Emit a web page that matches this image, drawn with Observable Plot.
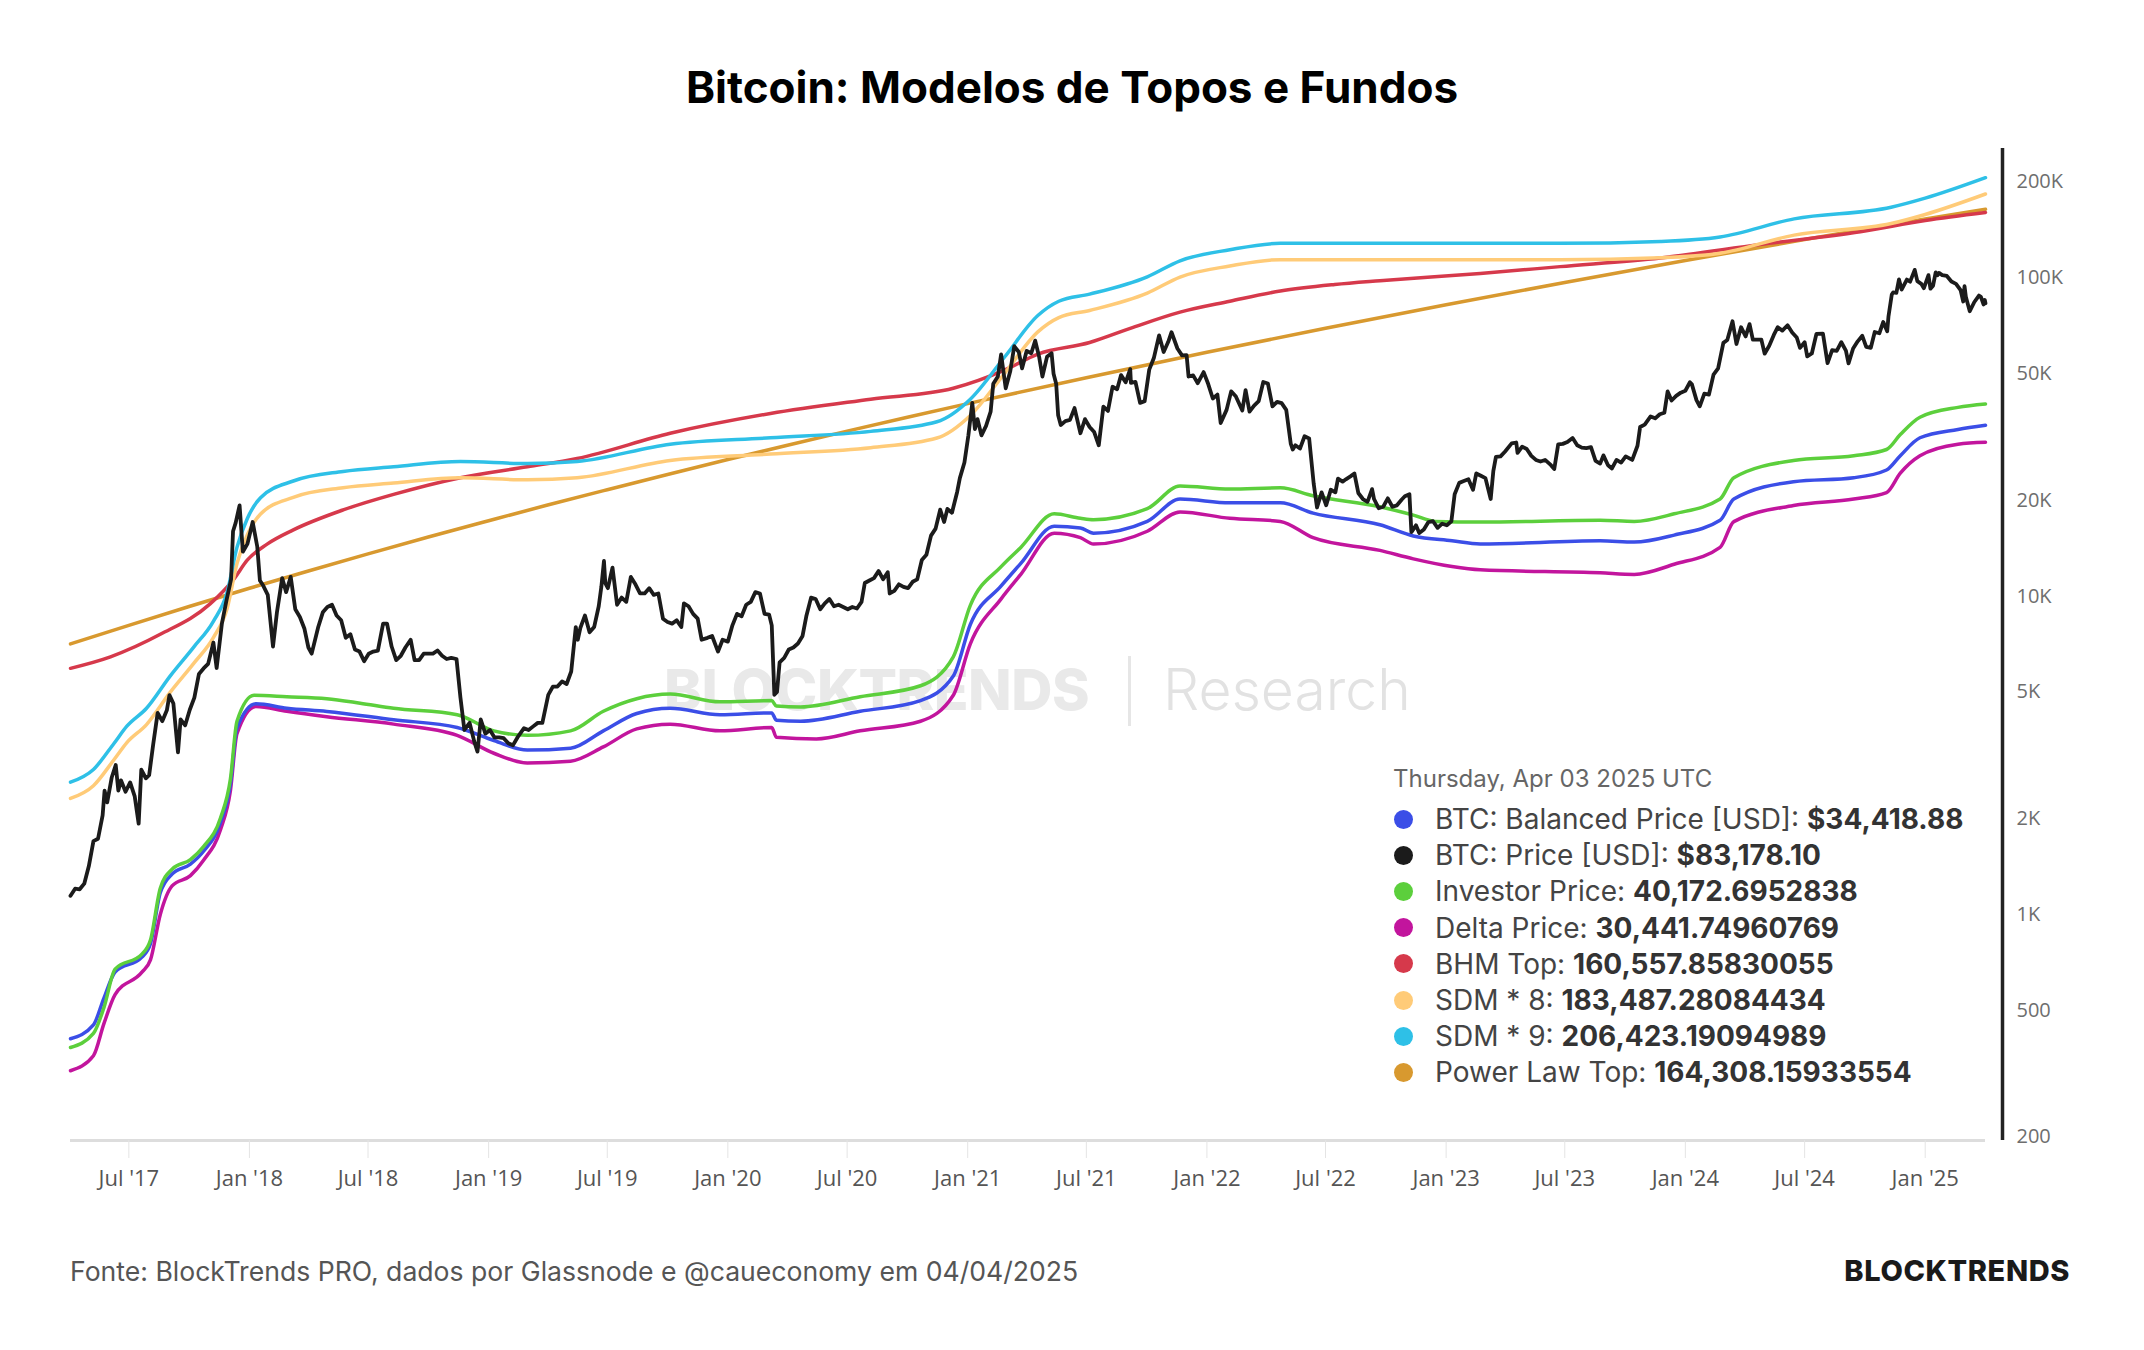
<!DOCTYPE html>
<html>
<head>
<meta charset="utf-8">
<script src="https://cdn.jsdelivr.net/npm/d3@7"></script>
<script src="https://cdn.jsdelivr.net/npm/@observablehq/plot@0.6"></script>
<style>
  html, body { margin: 0; padding: 0; background: #fff; }
  #page { position: relative; width: 2144px; height: 1350px; overflow: hidden; font-family: Inter, "Noto Sans", sans-serif; }
  #title { position: absolute; top: 60px; left: 0; width: 100%; text-align: center; font-size: 44px; font-weight: 700; line-height: 54px; color: #000; }
  #chart { position: absolute; left: 0; top: 120px; z-index: 1; }
  #watermark { position: absolute; left: 0; top: 0; width: 2144px; height: 1350px; z-index: 0; pointer-events: none; }
  #watermark .brand { position: absolute; left: 664px; top: 655px; font-size: 57px; line-height: 70px; font-weight: 800; color: #e9e9e9; letter-spacing: -0.5px; }
  #watermark .bar { position: absolute; left: 1128px; top: 656px; width: 3px; height: 70px; background: #e6e6e6; }
  #watermark .sub { position: absolute; left: 1163px; top: 655px; font-size: 57px; line-height: 70px; font-weight: 300; color: #e2e2e2; }
  #legend { position: absolute; left: 1393px; top: 763px; z-index: 2; }
  #legend .date { font-size: 24px; line-height: 32px; height: 32px; color: #666; margin-bottom: 6px; }
  #legend .row { display: flex; align-items: center; height: 36.2px; font-size: 28px; color: #444; white-space: pre; }
  #legend .dot { width: 19px; height: 19px; border-radius: 50%; margin-left: 1px; margin-right: 22px; flex: none; }
  #legend .val { font-weight: 700; color: #333; }
  #footer { position: absolute; left: 70px; top: 1253px; font-size: 26.6px; line-height: 36px; color: #555; }
  #logo { position: absolute; right: 74px; top: 1253px; font-size: 29px; line-height: 36px; font-weight: 800; color: #1a1a1a; letter-spacing: 0.6px; }
</style>
</head>
<body>
<div id="page">
  <div id="title">Bitcoin: Modelos de Topos e Fundos</div>
  <div id="watermark">
    <div class="brand">BLOCKTRENDS</div>
    <div class="bar"></div>
    <div class="sub">Research</div>
  </div>
  <div id="chart"></div>
  <div id="legend"></div>
  <div id="footer">Fonte: BlockTrends PRO, dados por Glassnode e @caueconomy em 04/04/2025</div>
  <div id="logo">BLOCKTRENDS</div>
</div>
<script>
// Axis ticks
const xTicks = ["2017-07-01","2018-01-01","2018-07-01","2019-01-01","2019-07-01","2020-01-01","2020-07-01","2021-01-01",
  "2021-07-01","2022-01-01","2022-07-01","2023-01-01","2023-07-01","2024-01-01","2024-07-01","2025-01-01"];
const yTicks = [200, 500, 1000, 2000, 5000, 10000, 20000, 50000, 100000, 200000];
const xDomain = ["2017-04-03", "2025-04-03"];
const yDomain = [195, 255000];

// Power Law Top
const powerLawTop = [
  ["2017-04-03",7080],["2017-07-01",8100],["2017-10-01",9280],["2018-01-01",10590],["2018-04-01",12000],
  ["2018-07-01",13580],["2018-10-01",15340],["2019-01-01",17260],["2019-04-01",19340],["2019-07-01",21610],
  ["2019-10-01",24130],["2020-01-01",26870],["2020-04-01",29810],["2020-07-01",33000],["2020-10-01",36510],
  ["2021-01-01",40280],["2021-07-01",48590],["2022-01-01",58380],["2022-07-01",69460],["2023-01-01",82360],
  ["2023-07-01",96750],["2024-01-01",113400],["2024-07-01",132000],["2025-01-01",153100],["2025-04-03",164308.15933554]
];

// BHM Top
const bhmTop = [
  ["2017-04-03",5935],["2017-06-03",6450],["2017-08-18",7590],["2017-11-02",9460],["2017-12-08",11300],
  ["2017-12-29",13000],["2018-01-28",14580],["2018-03-09",16160],["2018-05-24",18670],["2018-08-09",20890],
  ["2018-11-19",23570],["2019-03-01",25500],["2019-05-16",27090],["2019-10-05",32500],["2020-03-06",37500],
  ["2020-08-06",41600],["2020-12-10",45000],["2021-02-26",51300],["2021-04-18",57650],["2021-07-06",62660],
  ["2021-09-06",69400],["2021-11-21",78040],["2022-02-05",84440],["2022-04-23",90930],["2022-07-15",95330],
  ["2022-09-22",98000],["2023-02-22",103250],["2023-06-24",108500],["2023-11-24",115500],["2024-04-24",127300],
  ["2024-09-24",139600],["2025-01-01",151500],["2025-04-03",160557.85830055]
];

// SDM * 9
const sdm9 = [
  ["2017-04-03",2604],["2017-05-08",2856],["2017-06-08",3440],["2017-06-28",3904],["2017-07-28",4446],
  ["2017-09-02",5612],["2017-10-08",6920],["2017-11-07",8340],["2017-11-28",10290],["2017-12-13",14240],
  ["2017-12-29",17570],["2018-01-18",20400],["2018-03-09",23010],["2018-05-24",24660],["2018-08-09",25500],
  ["2018-11-19",26490],["2019-03-01",26100],["2019-05-16",26500],["2019-10-05",30040],["2020-03-06",31460],
  ["2020-08-06",32950],["2020-11-15",35330],["2021-01-05",41600],["2021-02-26",56330],["2021-04-18",76150],
  ["2021-05-20",84440],["2021-07-06",88900],["2021-10-02",100800],["2021-11-21",113200],["2022-02-05",122600],
  ["2022-04-23",128400],["2023-06-24",128400],["2023-11-24",130200],["2024-02-23",134500],["2024-06-15",153300],
  ["2024-11-10",166700],["2025-01-01",178000],["2025-04-03",206423.19094989]
];

// SDM * 8
const sdm8 = [
  ["2017-04-03",2315],["2017-05-08",2539],["2017-06-08",3058],["2017-06-28",3470],["2017-07-28",3952],
  ["2017-09-02",4988],["2017-10-08",6151],["2017-11-07",7413],["2017-11-28",9147],["2017-12-13",12658],
  ["2017-12-29",15618],["2018-01-18",18133],["2018-03-09",20453],["2018-05-24",21920],["2018-08-09",22667],
  ["2018-11-19",23547],["2019-03-01",23200],["2019-05-16",23556],["2019-10-05",26702],["2020-03-06",27964],
  ["2020-08-06",29289],["2020-11-15",31404],["2021-01-05",36978],["2021-02-26",50071],["2021-04-18",67689],
  ["2021-05-20",75058],["2021-07-06",79022],["2021-10-02",89600],["2021-11-21",100622],["2022-02-05",108978],
  ["2022-04-23",114133],["2023-06-24",114133],["2023-11-24",115733],["2024-02-23",119556],["2024-06-15",136267],
  ["2024-11-10",148178],["2025-01-01",158222],["2025-04-03",183487.28084434]
];

// Investor Price
const investorPrice = [
  ["2017-04-03",382],["2017-05-08",423],["2017-05-24",510],["2017-06-10",674],["2017-07-21",751],
  ["2017-08-03",831],["2017-08-18",1210],["2017-09-05",1388],["2017-10-03",1488],["2017-10-23",1634],
  ["2017-11-18",2014],["2017-12-03",2663],["2017-12-13",4048],["2018-01-08",4884],["2018-02-27",4835],
  ["2018-04-29",4765],["2018-06-19",4613],["2018-08-09",4446],["2018-11-14",4242],["2019-01-09",3776],
  ["2019-03-01",3656],["2019-05-06",3776],["2019-06-25",4350],["2019-08-15",4765],["2019-10-05",4926],
  ["2019-12-20",4657],["2020-03-08",4700],["2020-03-15",4520],["2020-04-21",4488],["2020-07-21",4835],
  ["2020-10-21",5232],["2020-12-10",6452],["2021-01-05",9362],["2021-02-21",12386],["2021-03-23",14236],
  ["2021-05-13",18150],["2021-06-22",17570],["2021-07-12",17400],["2021-10-02",18840],["2021-11-21",22180],
  ["2022-02-05",21700],["2022-04-23",21900],["2022-06-12",20680],["2022-09-22",19100],["2022-11-12",17980],
  ["2022-12-15",17180],["2023-02-22",17100],["2023-08-24",17320],["2023-10-15",17180],["2023-12-15",18150],
  ["2024-02-23",20200],["2024-03-15",23570],["2024-06-14",26700],["2024-09-14",27630],["2024-11-03",28900],
  ["2024-11-24",32200],["2024-12-24",36500],["2025-02-20",39200],["2025-04-03",40172.6952838]
];

// BTC: Balanced Price [USD]
const balancedPrice = [
  ["2017-04-03",407],["2017-05-08",450],["2017-05-24",546],["2017-06-10",660],["2017-07-21",735],
  ["2017-08-03",810],["2017-08-18",1170],["2017-09-05",1340],["2017-10-03",1440],["2017-10-23",1580],
  ["2017-11-18",1950],["2017-12-03",2560],["2017-12-13",3850],["2018-01-11",4593],["2018-02-27",4450],
  ["2018-04-29",4346],["2018-08-09",4089],["2018-11-14",3870],["2019-01-09",3522],["2019-03-01",3285],
  ["2019-05-06",3330],["2019-06-25",3776],["2019-08-15",4282],["2019-10-05",4446],["2019-12-20",4242],
  ["2020-03-08",4300],["2020-03-15",4080],["2020-04-21",4048],["2020-07-21",4350],["2020-10-21",4700],
  ["2020-12-10",5612],["2021-01-05",8150],["2021-02-21",10770],["2021-03-23",12680],["2021-05-13",16600],
  ["2021-06-22",16380],["2021-07-12",15770],["2021-10-02",17180],["2021-11-21",20200],["2022-02-05",19650],
  ["2022-04-23",19650],["2022-06-12",18240],["2022-09-22",16770],["2022-11-12",15460],["2023-01-10",14930],
  ["2023-02-22",14584],["2023-08-24",14930],["2023-10-15",14790],["2023-12-15",15560],["2024-02-23",17320],
  ["2024-03-15",20200],["2024-06-14",22900],["2024-09-14",23570],["2024-11-03",24920],["2024-11-24",27630],
  ["2024-12-24",31460],["2025-02-20",33420],["2025-04-03",34418.88]
];

// Delta Price
const deltaPrice = [
  ["2017-04-03",323],["2017-05-08",360],["2017-05-24",454],["2017-06-10",560],["2017-07-21",659],
  ["2017-08-03",720],["2017-08-18",1000],["2017-09-05",1230],["2017-10-03",1325],["2017-10-23",1480],
  ["2017-11-18",1850],["2017-12-03",2450],["2017-12-13",3700],["2018-01-11",4507],["2018-02-27",4350],
  ["2018-04-29",4183],["2018-08-09",3964],["2018-11-14",3656],["2019-01-09",3211],["2019-03-01",2992],
  ["2019-05-06",3030],["2019-06-25",3361],["2019-08-15",3830],["2019-10-05",3964],["2019-12-20",3776],
  ["2020-03-08",3870],["2020-03-15",3605],["2020-05-15",3560],["2020-07-21",3776],["2020-10-21",4048],
  ["2020-12-10",4884],["2021-01-05",7085],["2021-02-21",9812],["2021-03-23",11710],["2021-05-13",15770],
  ["2021-06-22",15270],["2021-07-12",14584],["2021-10-02",16000],["2021-11-21",18400],["2022-02-05",17570],
  ["2022-04-23",17180],["2022-06-12",15270],["2022-09-22",13930],["2022-11-12",13100],["2023-01-10",12390],
  ["2023-02-22",12100],["2023-08-24",11840],["2023-10-15",11710],["2023-12-15",12600],["2024-02-23",14236],
  ["2024-03-15",17150],["2024-06-14",19280],["2024-09-14",20200],["2024-11-03",21160],["2024-11-24",24350],
  ["2024-12-24",27630],["2025-02-20",30040],["2025-04-03",30441.74960769]
];

// BTC: Price [USD]
const btcPrice = [
  ["2017-04-03",1145],["2017-04-10",1205],["2017-04-17",1200],["2017-04-24",1250],["2017-05-01",1420],["2017-05-08",1700],
  ["2017-05-15",1730],["2017-05-22",2050],["2017-05-25",2450],["2017-05-29",2250],["2017-06-05",2700],["2017-06-11",2950],
  ["2017-06-15",2450],["2017-06-19",2640],["2017-06-26",2430],["2017-07-03",2600],["2017-07-10",2350],["2017-07-16",1930],
  ["2017-07-20",2850],["2017-07-27",2680],["2017-08-01",2740],["2017-08-07",3400],["2017-08-14",4300],["2017-08-21",4050],
  ["2017-08-28",4380],["2017-09-01",4890],["2017-09-07",4600],["2017-09-14",3230],["2017-09-18",4100],["2017-09-25",3930],
  ["2017-10-02",4400],["2017-10-09",4800],["2017-10-16",5700],["2017-10-23",5930],["2017-10-30",6130],["2017-11-07",7150],
  ["2017-11-12",5950],["2017-11-20",8200],["2017-11-27",9700],["2017-12-04",11300],["2017-12-07",16000],["2017-12-11",17000],
  ["2017-12-17",19300],["2017-12-22",13800],["2017-12-29",14600],
  ["2018-01-06",17100],["2018-01-13",14300],["2018-01-17",11200],["2018-01-22",10800],["2018-01-29",10100],["2018-02-06",6950],
  ["2018-02-12",8900],["2018-02-20",11400],["2018-02-26",10300],["2018-03-05",11500],["2018-03-12",9100],["2018-03-19",8600],
  ["2018-03-26",7900],["2018-04-01",6900],["2018-04-06",6600],["2018-04-16",8000],["2018-04-23",8900],["2018-04-30",9250],
  ["2018-05-07",9400],["2018-05-14",8700],["2018-05-21",8400],["2018-05-28",7400],["2018-06-04",7600],["2018-06-11",6800],
  ["2018-06-18",6700],["2018-06-25",6250],["2018-07-02",6600],["2018-07-09",6700],["2018-07-16",6750],["2018-07-24",8200],
  ["2018-07-30",8200],["2018-08-06",6950],["2018-08-13",6300],["2018-08-20",6500],["2018-08-27",6900],["2018-09-04",7300],
  ["2018-09-10",6300],["2018-09-17",6300],["2018-09-24",6600],["2018-10-01",6600],["2018-10-08",6600],["2018-10-15",6750],
  ["2018-10-22",6500],["2018-10-29",6350],["2018-11-05",6400],["2018-11-13",6350],["2018-11-19",4800],["2018-11-25",3800],
  ["2018-12-03",4000],["2018-12-10",3500],["2018-12-15",3250],["2018-12-20",4100],["2018-12-27",3700],
  ["2019-01-03",3800],["2019-01-10",3600],["2019-01-17",3600],["2019-01-24",3580],["2019-01-31",3450],["2019-02-07",3400],
  ["2019-02-14",3600],["2019-02-24",3850],["2019-03-03",3800],["2019-03-10",3900],["2019-03-17",4000],["2019-03-24",4000],
  ["2019-04-02",4900],["2019-04-09",5200],["2019-04-16",5200],["2019-04-23",5400],["2019-04-30",5300],["2019-05-07",5800],
  ["2019-05-14",8000],["2019-05-17",7300],["2019-05-21",7950],["2019-05-28",8700],["2019-06-04",7700],["2019-06-11",8000],
  ["2019-06-18",9300],["2019-06-22",10700],["2019-06-26",12900],["2019-06-28",11000],["2019-07-02",10600],["2019-07-09",12300],
  ["2019-07-16",9400],["2019-07-23",9900],["2019-07-30",9600],["2019-08-06",11500],["2019-08-13",10900],["2019-08-20",10200],
  ["2019-08-27",10200],["2019-09-03",10600],["2019-09-10",10100],["2019-09-17",10200],["2019-09-24",8500],["2019-10-01",8300],
  ["2019-10-08",8200],["2019-10-15",8400],["2019-10-22",8000],["2019-10-26",9500],["2019-11-02",9300],["2019-11-09",8800],
  ["2019-11-16",8500],["2019-11-22",7300],["2019-12-01",7400],["2019-12-08",7500],["2019-12-17",6700],["2019-12-24",7300],
  ["2020-01-01",7200],["2020-01-08",8100],["2020-01-15",8800],["2020-01-22",8650],["2020-01-29",9400],["2020-02-05",9600],
  ["2020-02-12",10300],["2020-02-19",10200],["2020-02-26",8800],["2020-03-04",8750],["2020-03-08",8100],["2020-03-12",4900],
  ["2020-03-16",5000],["2020-03-20",6200],["2020-03-27",6400],["2020-04-03",6800],["2020-04-10",6900],["2020-04-17",7100],
  ["2020-04-24",7500],["2020-04-30",8700],["2020-05-07",9900],["2020-05-14",9800],["2020-05-21",9100],["2020-05-28",9500],
  ["2020-06-04",9800],["2020-06-11",9300],["2020-06-18",9400],["2020-06-25",9250],["2020-07-02",9100],["2020-07-09",9250],
  ["2020-07-16",9150],["2020-07-23",9600],["2020-07-28",11000],["2020-08-04",11200],["2020-08-11",11400],["2020-08-18",12000],
  ["2020-08-25",11300],["2020-09-01",11900],["2020-09-04",10200],["2020-09-11",10400],["2020-09-18",10900],["2020-09-25",10700],
  ["2020-10-02",10600],["2020-10-09",11100],["2020-10-16",11300],["2020-10-23",13000],["2020-10-30",13500],["2020-11-06",15500],
  ["2020-11-13",16300],["2020-11-20",18700],["2020-11-26",17100],["2020-12-01",18800],["2020-12-08",18300],["2020-12-16",21300],
  ["2020-12-20",23500],["2020-12-27",26300],
  ["2021-01-02",32000],["2021-01-08",40500],["2021-01-12",33500],["2021-01-16",36000],["2021-01-22",32000],["2021-01-29",34300],
  ["2021-02-05",38000],["2021-02-09",46500],["2021-02-16",49000],["2021-02-21",57500],["2021-02-28",45000],["2021-03-07",51000],
  ["2021-03-13",61000],["2021-03-20",58500],["2021-03-25",52000],["2021-04-01",59000],["2021-04-08",58000],["2021-04-14",63500],
  ["2021-04-20",56500],["2021-04-25",49000],["2021-05-02",56500],["2021-05-09",58000],["2021-05-12",50000],["2021-05-16",46500],
  ["2021-05-19",37000],["2021-05-23",34500],["2021-05-30",35500],["2021-06-06",35800],["2021-06-13",39000],["2021-06-22",32500],
  ["2021-06-29",36000],["2021-07-06",34000],["2021-07-13",32800],["2021-07-20",29800],["2021-07-27",39400],["2021-08-03",38200],
  ["2021-08-10",45500],["2021-08-17",44700],["2021-08-23",49500],["2021-08-30",47000],["2021-09-06",51700],["2021-09-07",46800],
  ["2021-09-14",47100],["2021-09-21",40500],["2021-09-28",41000],["2021-10-05",51500],["2021-10-12",56000],["2021-10-20",66000],
  ["2021-10-27",58500],["2021-11-03",63000],["2021-11-08",67500],["2021-11-17",60000],["2021-11-24",57100],["2021-12-01",57200],
  ["2021-12-04",49000],["2021-12-11",49400],["2021-12-18",46700],["2021-12-27",50600],
  ["2022-01-03",46400],["2022-01-10",41800],["2022-01-17",43000],["2022-01-22",35000],["2022-01-31",38500],["2022-02-07",44000],
  ["2022-02-14",42500],["2022-02-24",38300],["2022-03-01",44400],["2022-03-07",38000],["2022-03-14",39700],["2022-03-21",41000],
  ["2022-03-28",47100],["2022-04-04",46600],["2022-04-11",39500],["2022-04-18",40800],["2022-04-25",40400],["2022-05-02",38500],
  ["2022-05-09",30100],["2022-05-12",28900],["2022-05-16",29800],["2022-05-23",29100],["2022-05-30",31800],["2022-06-06",31300],
  ["2022-06-13",22500],["2022-06-18",19000],["2022-06-25",21200],["2022-07-02",19300],["2022-07-09",21600],["2022-07-16",21200],
  ["2022-07-20",23400],["2022-07-27",22900],["2022-08-01",23300],["2022-08-08",23800],["2022-08-14",24300],["2022-08-20",21100],
  ["2022-08-27",20200],["2022-09-03",19800],["2022-09-10",21700],["2022-09-13",20200],["2022-09-20",18900],["2022-09-27",19100],
  ["2022-10-04",20300],["2022-10-11",19100],["2022-10-18",19300],["2022-10-25",20100],["2022-10-30",20600],["2022-11-06",20900],
  ["2022-11-09",15900],["2022-11-16",16700],["2022-11-21",15800],["2022-11-28",16200],["2022-12-05",17100],["2022-12-12",17200],
  ["2022-12-19",16400],["2022-12-26",16900],
  ["2023-01-02",16700],["2023-01-09",17200],["2023-01-14",20900],["2023-01-21",22700],["2023-01-28",23000],["2023-02-04",23300],
  ["2023-02-11",21600],["2023-02-16",24300],["2023-02-23",23900],["2023-03-02",23500],["2023-03-10",20200],["2023-03-14",24700],
  ["2023-03-18",27400],["2023-03-25",27500],["2023-04-01",28500],["2023-04-11",30200],["2023-04-18",30400],["2023-04-20",28200],
  ["2023-04-27",29500],["2023-05-04",29000],["2023-05-11",27600],["2023-05-18",26800],["2023-05-25",26500],["2023-06-01",26800],
  ["2023-06-10",25800],["2023-06-15",25100],["2023-06-21",30000],["2023-06-28",30100],["2023-07-05",30500],["2023-07-13",31400],
  ["2023-07-20",29800],["2023-07-27",29300],["2023-08-03",29200],["2023-08-10",29400],["2023-08-17",26600],["2023-08-24",26100],
  ["2023-08-29",27700],["2023-09-05",25800],["2023-09-11",25200],["2023-09-18",26800],["2023-09-25",26300],["2023-10-02",27500],
  ["2023-10-12",26800],["2023-10-20",29700],["2023-10-24",34000],["2023-10-31",34600],["2023-11-09",36700],["2023-11-16",36200],
  ["2023-11-23",37300],["2023-11-30",37700],["2023-12-05",44000],["2023-12-11",41200],["2023-12-18",42600],["2023-12-25",43600],
  ["2024-01-01",44200],["2024-01-08",47000],["2024-01-11",46300],["2024-01-18",41300],["2024-01-23",39500],["2024-01-30",43300],
  ["2024-02-06",43000],["2024-02-13",49700],["2024-02-20",52000],["2024-02-28",62500],["2024-03-05",63800],["2024-03-13",73100],
  ["2024-03-19",62000],["2024-03-26",70000],["2024-04-02",65500],["2024-04-08",71600],["2024-04-13",64000],["2024-04-19",64000],
  ["2024-04-26",64000],["2024-05-01",57800],["2024-05-08",61200],["2024-05-15",66200],["2024-05-21",70000],["2024-05-28",68300],
  ["2024-06-05",71000],["2024-06-12",67400],["2024-06-19",65000],["2024-06-24",60300],["2024-07-01",62800],["2024-07-05",56700],
  ["2024-07-12",57900],["2024-07-19",66700],["2024-07-29",66800],["2024-08-05",54000],["2024-08-12",59300],["2024-08-19",59000],
  ["2024-08-26",62800],["2024-09-02",59100],["2024-09-06",53900],["2024-09-13",60000],["2024-09-20",63200],["2024-09-27",65800],
  ["2024-10-03",60700],["2024-10-10",60300],["2024-10-16",67600],["2024-10-23",67000],["2024-10-29",72700],["2024-11-04",68000],
  ["2024-11-06",75800],["2024-11-11",88700],["2024-11-13",90000],["2024-11-18",89800],["2024-11-22",98900],["2024-11-26",91900],
  ["2024-12-04",98800],["2024-12-09",97300],["2024-12-16",106000],["2024-12-20",97700],["2024-12-26",95800],["2024-12-30",92800],
  ["2025-01-06",102000],["2025-01-09",92500],["2025-01-13",94500],["2025-01-17",104000],["2025-01-20",102000],["2025-01-22",103700],
  ["2025-01-27",102000],["2025-02-03",101400],["2025-02-10",97400],["2025-02-17",95800],["2025-02-24",91500],["2025-02-28",84300],
  ["2025-03-02",94200],["2025-03-04",87200],["2025-03-10",78600],["2025-03-17",84000],["2025-03-24",88000],["2025-03-27",87200],
  ["2025-03-31",82500],["2025-04-02",85200],["2025-04-03",83178.10]
];

// Number formats used in the legend
const usd = v => "$" + d3.format(",.2f")(v);
const full = v => {
  const [i, f] = String(v).split(".");
  return d3.format(",")(+i) + (f ? "." + f : "");
};

// Legend order and line drawing order
const legendSeries = [
  {name: "BTC: Balanced Price [USD]", data: balancedPrice, color: "#3b4ee7", fmt: usd},
  {name: "BTC: Price [USD]", data: btcPrice, color: "#1b1b1b", fmt: usd},
  {name: "Investor Price", data: investorPrice, color: "#5ccf3c", fmt: full},
  {name: "Delta Price", data: deltaPrice, color: "#c2159d", fmt: full},
  {name: "BHM Top", data: bhmTop, color: "#d6394b", fmt: full},
  {name: "SDM * 8", data: sdm8, color: "#ffcb78", fmt: full},
  {name: "SDM * 9", data: sdm9, color: "#2ec0e7", fmt: full},
  {name: "Power Law Top", data: powerLawTop, color: "#d8992f", fmt: full}
];
const drawOrder = ["Power Law Top", "BHM Top", "SDM * 8", "SDM * 9", "Delta Price", "BTC: Balanced Price [USD]", "Investor Price", "BTC: Price [USD]"];

const parse = s => new Date(s + "T00:00:00Z");
const X = d => parse(d[0]);
const Y = d => d[1];
const yLabel = v => v >= 1000 ? (v / 1000) + "K" : String(v);

const lineMarks = drawOrder.map(name => {
  const s = legendSeries.find(e => e.name === name);
  const isPrice = name === "BTC: Price [USD]";
  return Plot.line(s.data, {
    x: X, y: Y, stroke: s.color,
    strokeWidth: isPrice ? 3.8 : 3.5,
    strokeLinejoin: "round", strokeLinecap: "round",
    curve: isPrice ? "linear" : "monotone-x"
  });
});

const chart = Plot.plot({
  width: 2144,
  height: 1080,
  marginLeft: 70,
  marginRight: 159,
  marginTop: 28,
  marginBottom: 60,
  style: {background: "transparent", fontFamily: "'Open Sans', sans-serif", fontSize: "20px", overflow: "visible"},
  x: {type: "utc", domain: xDomain.map(parse)},
  y: {type: "log", domain: yDomain, axis: null},
  marks: [
    Plot.ruleY([yDomain[0]], {stroke: "#dddddd", strokeWidth: 3}),
    Plot.axisX({ticks: xTicks.map(parse), tickSize: 18, tickFormat: () => "", color: "#e4e4e4"}),
    Plot.axisX({ticks: xTicks.map(parse), tickSize: 0, tickPadding: 30, tickFormat: d3.utcFormat("%b '%y"), color: "#555", fontSize: 22}),
    // right-hand value labels on the log scale
    Plot.text(yTicks, {y: d => d, text: yLabel, frameAnchor: "right", dx: 31, textAnchor: "start", fill: "#6e6e6e", fontSize: 20}),
    ...lineMarks,
    Plot.ruleX([parse(xDomain[1])], {dx: 17, stroke: "#222", strokeWidth: 3.5})
  ]
});
document.getElementById("chart").appendChild(chart);

// Legend built from the final value of each series
const legend = d3.select("#legend");
const lastDate = parse(btcPrice[btcPrice.length - 1][0]);
legend.append("div").attr("class", "date").text(d3.utcFormat("%A, %b %d %Y UTC")(lastDate));
const rows = legend.selectAll(".row").data(legendSeries).join("div").attr("class", "row");
rows.append("span").attr("class", "dot").style("background", d => d.color);
rows.append("span").text(d => d.name + ": ");
rows.append("span").attr("class", "val").text(d => d.fmt(d.data[d.data.length - 1][1]));
</script>
</body>
</html>
